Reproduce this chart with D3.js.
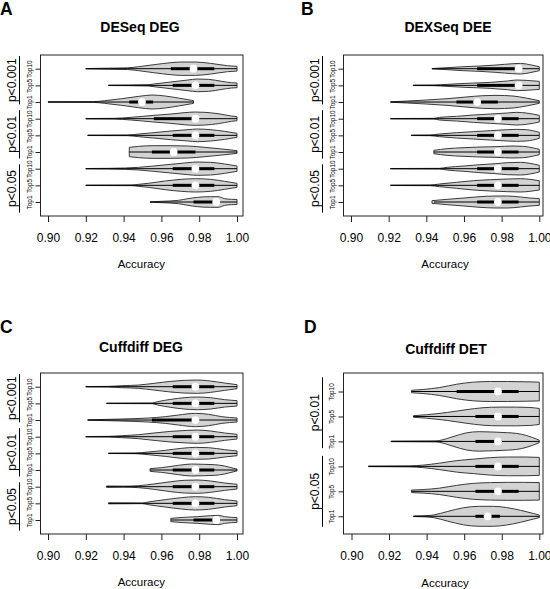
<!DOCTYPE html>
<html><head><meta charset="utf-8">
<script src="https://cdn.jsdelivr.net/npm/d3@7"></script>
<style>
body{margin:0;background:#fff}
svg{display:block}
text{font-family:"Liberation Sans",Arial,Helvetica,sans-serif;fill:#000}
</style>
</head><body>
<svg id="chart" width="550" height="589"></svg>
<script>
// ---------- data ----------
const xTicks = [0.90, 0.92, 0.94, 0.96, 0.98, 1.00];
const titles = ["DESeq DEG", "DEXSeq DEE", "Cuffdiff DEG", "Cuffdiff DET"];
const letters = ["A", "B", "C", "D"];
const rowLabels9 = ["Top1", "Top5", "Top10", "Top1", "Top5", "Top10", "Top1", "Top5", "Top10"];
const groupLabels9 = ["p<0.05", "p<0.01", "p<0.001"];
const rowLabels6 = ["Top1", "Top5", "Top10", "Top1", "Top5", "Top10"];
const groupLabels6 = ["p<0.05", "p<0.01"];

// per violin (bottom row first): [min, q1, median, q3, max]
const statsA = [
  [0.954, 0.977, 0.989, 0.989, 1.0],
  [0.920, 0.966, 0.978, 0.988, 1.0],
  [0.920, 0.966, 0.978, 0.988, 1.0],
  [0.943, 0.955, 0.9665, 0.978, 1.0],
  [0.921, 0.966, 0.978, 0.988, 1.0],
  [0.920, 0.956, 0.978, 0.978, 1.0],
  [0.900, 0.943, 0.9497, 0.9556, 0.977],
  [0.932, 0.966, 0.978, 0.988, 1.0],
  [0.920, 0.965, 0.977, 0.988, 1.0]
];
// density outline per violin: [accuracy, half-width in row units]
const shapesA = [
  [[0.954,0.01],[0.960,0.04],[0.969,0.10],[0.974,0.20],[0.979,0.28],[0.986,0.32],[0.990,0.32],[0.9935,0.20],[0.997,0.16],[1.0,0.15]],
  [[0.920,0.01],[0.944,0.02],[0.948,0.06],[0.953,0.12],[0.962,0.26],[0.9705,0.36],[0.978,0.40],[0.986,0.36],[0.9935,0.24],[1.0,0.12]],
  [[0.920,0.01],[0.932,0.02],[0.941,0.04],[0.948,0.08],[0.956,0.16],[0.965,0.26],[0.974,0.36],[0.979,0.40],[0.986,0.38],[0.9935,0.28],[1.0,0.16]],
  [[0.943,0.28],[0.948,0.34],[0.956,0.38],[0.965,0.38],[0.974,0.36],[0.983,0.28],[0.992,0.18],[1.0,0.08]],
  [[0.921,0.01],[0.942,0.02],[0.948,0.08],[0.956,0.16],[0.965,0.26],[0.974,0.34],[0.979,0.38],[0.986,0.34],[0.9935,0.24],[1.0,0.12]],
  [[0.920,0.01],[0.935,0.02],[0.944,0.08],[0.956,0.20],[0.965,0.28],[0.972,0.36],[0.978,0.40],[0.983,0.38],[0.990,0.30],[0.997,0.16],[1.0,0.12]],
  [[0.900,0.01],[0.924,0.02],[0.930,0.08],[0.939,0.20],[0.948,0.34],[0.955,0.42],[0.962,0.36],[0.969,0.24],[0.976,0.10],[0.977,0.08]],
  [[0.932,0.01],[0.953,0.04],[0.956,0.08],[0.965,0.20],[0.974,0.32],[0.979,0.38],[0.985,0.36],[0.992,0.24],[0.997,0.16],[1.0,0.14]],
  [[0.920,0.01],[0.932,0.03],[0.942,0.05],[0.948,0.12],[0.956,0.24],[0.965,0.36],[0.9705,0.40],[0.978,0.40],[0.986,0.32],[0.995,0.18],[1.0,0.14]]
];

const statsB = [
  [0.944, 0.967, 0.978, 0.989, 1.0],
  [0.921, 0.967, 0.978, 0.989, 1.0],
  [0.921, 0.967, 0.978, 0.989, 1.0],
  [0.944, 0.967, 0.978, 0.989, 1.0],
  [0.932, 0.967, 0.978, 0.989, 1.0],
  [0.921, 0.967, 0.978, 0.989, 1.0],
  [0.921, 0.956, 0.967, 0.978, 1.0],
  [0.933, 0.967, 0.989, 0.989, 1.0],
  [0.943, 0.967, 0.989, 0.989, 1.0]
];
const shapesB = [
  [[0.943,0.08],[0.951,0.16],[0.960,0.24],[0.9685,0.32],[0.977,0.36],[0.983,0.36],[0.990,0.30],[0.995,0.24],[1.0,0.20]],
  [[0.921,0.01],[0.942,0.02],[0.947,0.08],[0.956,0.18],[0.965,0.28],[0.974,0.34],[0.983,0.38],[0.990,0.40],[0.995,0.36],[1.0,0.28]],
  [[0.921,0.01],[0.947,0.02],[0.951,0.08],[0.960,0.16],[0.9685,0.24],[0.977,0.30],[0.983,0.36],[0.990,0.38],[0.995,0.32],[1.0,0.20]],
  [[0.944,0.10],[0.951,0.20],[0.960,0.26],[0.9685,0.30],[0.977,0.32],[0.986,0.36],[0.9915,0.34],[0.997,0.24],[1.0,0.16]],
  [[0.932,0.01],[0.942,0.02],[0.947,0.08],[0.956,0.16],[0.965,0.22],[0.974,0.28],[0.983,0.34],[0.988,0.36],[0.993,0.34],[1.0,0.18]],
  [[0.921,0.01],[0.944,0.02],[0.947,0.08],[0.956,0.14],[0.965,0.22],[0.974,0.28],[0.983,0.34],[0.988,0.38],[0.993,0.34],[1.0,0.20]],
  [[0.921,0.01],[0.930,0.06],[0.940,0.12],[0.951,0.20],[0.961,0.30],[0.970,0.38],[0.977,0.40],[0.986,0.36],[0.993,0.24],[1.0,0.08]],
  [[0.933,0.01],[0.944,0.02],[0.951,0.06],[0.961,0.12],[0.974,0.18],[0.983,0.26],[0.988,0.32],[0.993,0.30],[1.0,0.24]],
  [[0.943,0.01],[0.951,0.06],[0.960,0.12],[0.9685,0.16],[0.977,0.22],[0.986,0.30],[0.990,0.32],[0.995,0.24],[1.0,0.12]]
];

const statsC = [
  [0.965, 0.977, 0.989, 0.989, 1.0],
  [0.932, 0.966, 0.978, 0.988, 1.0],
  [0.931, 0.966, 0.978, 0.988, 1.0],
  [0.954, 0.966, 0.978, 0.988, 1.0],
  [0.932, 0.966, 0.978, 0.988, 1.0],
  [0.920, 0.966, 0.978, 0.988, 1.0],
  [0.921, 0.955, 0.978, 0.978, 1.0],
  [0.931, 0.966, 0.978, 0.988, 1.0],
  [0.920, 0.966, 0.978, 0.988, 1.0]
];
const shapesC = [
  [[0.965,0.10],[0.972,0.16],[0.979,0.20],[0.986,0.26],[0.990,0.28],[0.9935,0.20],[0.997,0.16],[1.0,0.14]],
  [[0.932,0.03],[0.950,0.02],[0.953,0.08],[0.962,0.22],[0.9705,0.34],[0.978,0.40],[0.985,0.36],[0.9935,0.22],[1.0,0.14]],
  [[0.931,0.04],[0.940,0.03],[0.948,0.06],[0.956,0.16],[0.965,0.30],[0.972,0.38],[0.979,0.40],[0.986,0.34],[0.9935,0.22],[1.0,0.14]],
  [[0.954,0.08],[0.960,0.14],[0.969,0.28],[0.976,0.36],[0.983,0.34],[0.988,0.32],[0.9935,0.24],[0.999,0.08],[1.0,0.06]],
  [[0.932,0.01],[0.946,0.02],[0.953,0.08],[0.962,0.18],[0.9705,0.30],[0.978,0.36],[0.985,0.34],[0.9935,0.22],[1.0,0.14]],
  [[0.920,0.01],[0.932,0.02],[0.939,0.06],[0.948,0.12],[0.956,0.22],[0.965,0.32],[0.974,0.38],[0.979,0.40],[0.986,0.34],[0.9935,0.22],[1.0,0.14]],
  [[0.921,0.01],[0.939,0.06],[0.953,0.12],[0.962,0.20],[0.969,0.30],[0.978,0.40],[0.985,0.34],[0.992,0.20],[1.0,0.12]],
  [[0.931,0.01],[0.955,0.02],[0.958,0.10],[0.965,0.24],[0.972,0.34],[0.979,0.38],[0.986,0.34],[0.9935,0.22],[1.0,0.16]],
  [[0.920,0.01],[0.932,0.02],[0.939,0.06],[0.948,0.10],[0.956,0.20],[0.965,0.32],[0.972,0.38],[0.979,0.40],[0.986,0.34],[0.9935,0.22],[1.0,0.12]]
];

const statsD = [
  [0.933, 0.966, 0.9725, 0.979, 1.0],
  [0.932, 0.966, 0.978, 0.989, 1.0],
  [0.909, 0.966, 0.978, 0.989, 1.0],
  [0.921, 0.966, 0.978, 0.980, 1.0],
  [0.933, 0.966, 0.978, 0.989, 1.0],
  [0.932, 0.956, 0.978, 0.989, 1.0]
];
const shapesD = [
  [[0.933,0.01],[0.938,0.02],[0.9435,0.05],[0.951,0.19],[0.9595,0.34],[0.968,0.40],[0.9755,0.40],[0.9826,0.35],[0.990,0.24],[0.997,0.11],[1.0,0.05]],
  [[0.932,0.05],[0.938,0.07],[0.947,0.13],[0.956,0.24],[0.965,0.32],[0.974,0.35],[0.983,0.36],[0.9915,0.36],[1.0,0.35]],
  [[0.909,0.01],[0.931,0.02],[0.938,0.05],[0.947,0.13],[0.956,0.23],[0.965,0.29],[0.974,0.35],[0.983,0.375],[0.993,0.375],[1.0,0.36]],
  [[0.921,0.01],[0.945,0.02],[0.947,0.04],[0.954,0.19],[0.961,0.34],[0.968,0.39],[0.9755,0.375],[0.983,0.35],[0.988,0.32],[0.993,0.24],[1.0,0.05]],
  [[0.933,0.03],[0.940,0.07],[0.951,0.16],[0.961,0.27],[0.970,0.35],[0.979,0.375],[0.988,0.375],[0.995,0.36],[1.0,0.32]],
  [[0.932,0.05],[0.938,0.08],[0.947,0.16],[0.956,0.29],[0.965,0.375],[0.974,0.40],[0.983,0.40],[0.993,0.39],[1.0,0.375]]
];

// ---------- layout ----------
const panels = [
  {stats: statsA, shapes: shapesA, rowLabels: rowLabels9, groups: groupLabels9,
   box: [40.5, 243, 55, 216], xr: [48, 237], yr: [202, 68.7],
   letter: [0, 15], title: [140, 32.3], xlab: [141.3, 267.5],
   gc: [1.81, 5.06, 8.31], glen: 2.9, rowOff: 8.5},
  {stats: statsB, shapes: shapesB, rowLabels: rowLabels9, groups: groupLabels9,
   box: [343.5, 543, 55, 216], xr: [351, 539.3], yr: [202, 68.7],
   letter: [301, 15], title: [448, 32.3], xlab: [445, 267.5],
   gc: [1.81, 5.06, 8.31], glen: 2.9, rowOff: 8.5},
  {stats: statsC, shapes: shapesC, rowLabels: rowLabels9, groups: groupLabels9,
   box: [40.5, 243, 373, 534], xr: [48, 237], yr: [520, 386.7],
   letter: [0, 333.3], title: [141, 352], xlab: [141.3, 586],
   gc: [1.81, 5.06, 8.31], glen: 2.9, rowOff: 8.5},
  {stats: statsD, shapes: shapesD, rowLabels: rowLabels6, groups: groupLabels6,
   box: [343.5, 543, 373, 534], xr: [351.5, 539.3], yr: [516.3, 391.5],
   letter: [304, 333.3], title: [446, 353.5], xlab: [445, 586.5],
   gc: [2.0, 5.15], glen: 2.84, rowOff: 10}
];

const svg = d3.select("#chart");

panels.forEach((p, pi) => {
  const g = svg.append("g");
  const n = p.stats.length;
  const x = d3.scaleLinear().domain([0.9, 1.0]).range(p.xr);
  const y = d3.scaleLinear().domain([1, n]).range(p.yr);
  const unit = Math.abs(y(2) - y(1));

  // panel letter and title
  g.append("text").attr("x", p.letter[0]).attr("y", p.letter[1])
    .attr("font-size", 17.5).attr("font-weight", "bold").text(letters[pi]);
  g.append("text").attr("x", p.title[0]).attr("y", p.title[1])
    .attr("text-anchor", "middle").attr("font-size", 14).attr("font-weight", "bold").text(titles[pi]);

  // violins
  p.stats.forEach((s, i) => {
    const cy = y(i + 1);
    const area = d3.area()
      .x(d => x(d[0]))
      .y0(d => cy + d[1] * unit)
      .y1(d => cy - d[1] * unit)
      .curve(d3.curveMonotoneX);
    g.append("path").attr("d", area(p.shapes[i]))
      .attr("fill", "#d3d3d3").attr("stroke", "#3a3a3a").attr("stroke-width", 1);
    g.append("line").attr("x1", x(s[0])).attr("x2", x(s[4]))
      .attr("y1", cy).attr("y2", cy).attr("stroke", "#000").attr("stroke-width", 1);
    g.append("rect").attr("x", x(s[1])).attr("y", cy - 1.5)
      .attr("width", Math.max(0, x(s[3]) - x(s[1]))).attr("height", 3).attr("fill", "#000");
    g.append("circle").attr("cx", x(s[2])).attr("cy", cy).attr("r", 3.9).attr("fill", "#fff");
  });

  // plot box
  g.append("rect").attr("x", p.box[0]).attr("y", p.box[2])
    .attr("width", p.box[1] - p.box[0]).attr("height", p.box[3] - p.box[2])
    .attr("fill", "none").attr("stroke", "#222").attr("stroke-width", 1);

  // x axis
  const xa = g.append("g").attr("transform", `translate(0,${p.box[3]})`)
    .call(d3.axisBottom(x).tickValues(xTicks).tickSize(6).tickPadding(11).tickFormat(d3.format(".2f")));
  xa.select(".domain").remove();
  xa.selectAll("line").attr("stroke", "#222");
  xa.selectAll("text").attr("font-size", 12).attr("font-family", '"Liberation Sans",Arial,sans-serif').attr("fill", "#000");

  g.append("text").attr("x", p.xlab[0]).attr("y", p.xlab[1])
    .attr("text-anchor", "middle").attr("font-size", 11.5).text("Accuracy");

  // y axis (row labels)
  const ya = g.append("g").attr("transform", `translate(${p.box[0]},0)`)
    .call(d3.axisLeft(y).tickValues(d3.range(1, n + 1)).tickSize(5).tickFormat(d => p.rowLabels[d - 1]));
  ya.select(".domain").remove();
  ya.selectAll("line").attr("stroke", "#222");
  ya.selectAll("text")
    .attr("x", null).attr("dy", null).attr("text-anchor", "middle")
    .attr("transform", `translate(${-p.rowOff},0) rotate(-90)`)
    .attr("font-size", 6.5).attr("font-family", '"Liberation Sans",Arial,sans-serif').attr("fill", "#222");

  // group bars and labels
  p.groups.forEach((lab, gi) => {
    const yc = y(p.gc[gi]);
    const half = p.glen * unit / 2;
    g.append("line").attr("x1", p.box[0] - 21).attr("x2", p.box[0] - 21)
      .attr("y1", yc - half).attr("y2", yc + half).attr("stroke", "#000").attr("stroke-width", 1);
    g.append("text").attr("transform", `translate(${p.box[0] - 24.5},${yc}) rotate(-90)`)
      .attr("text-anchor", "middle").attr("font-size", 12).text(lab);
  });
});
</script>
</body></html>
